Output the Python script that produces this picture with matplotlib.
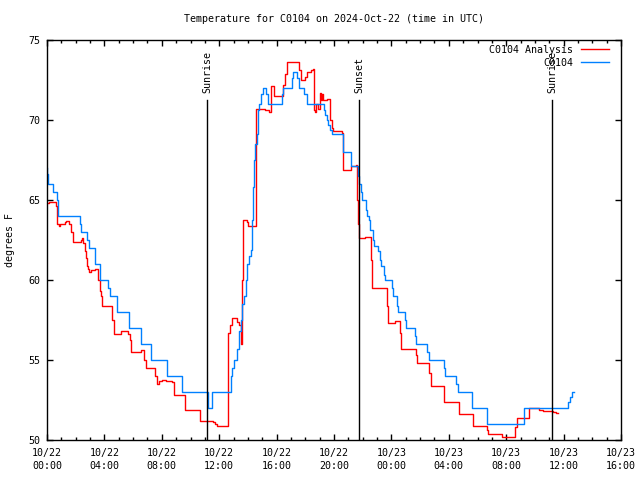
import matplotlib
matplotlib.use("Agg")
import matplotlib.pyplot as plt
import numpy as np

# observed station temps (hours since 10/22 00:00 UTC, deg F)
obs_hours = [0.0, 0.03, 0.09, 0.42, 0.72, 0.77, 2.28, 2.37, 2.77, 2.93, 3.34, 3.69,
             4.25, 4.39, 4.86, 5.74, 6.53, 7.27, 8.38, 9.39, 11.24, 11.48, 12.80,
             12.89, 13.03, 13.26, 13.38, 13.49, 13.61, 13.73, 13.85, 13.96, 14.08,
             14.20, 14.26, 14.38, 14.45, 14.49, 14.61, 14.68, 14.72, 14.79, 14.89,
             15.03, 15.26, 15.37, 16.40, 16.47, 17.05, 17.14, 17.42, 17.56, 17.91,
             18.10, 19.32, 19.37, 19.49, 19.56, 19.72, 19.84, 20.61, 21.18, 21.65,
             21.76, 21.88, 21.97, 22.23, 22.32, 22.44, 22.51, 22.74, 22.81, 23.09,
             23.21, 23.28, 23.50, 23.55, 24.02, 24.13, 24.37, 24.44, 24.95, 25.00,
             25.67, 25.69, 26.50, 26.62, 27.69, 27.74, 28.50, 28.66, 29.64, 30.64,
             33.26, 36.33, 36.48, 36.62, 36.75]
obs_temps = [67.0, 66.6, 66.0, 65.5, 65.0, 64.0, 63.5, 63.0, 62.5, 62.0, 61.0, 60.0,
             59.5, 59.0, 58.0, 57.0, 56.0, 55.0, 54.0, 53.0, 52.0, 53.0, 54.0,
             54.5, 55.0, 55.7, 56.8, 57.5, 58.5, 59.0, 60.0, 61.0, 61.5,
             61.9, 63.75, 65.8, 67.5, 68.5, 69.1, 69.6, 70.6, 71.0, 71.6,
             72.0, 71.6, 71.0, 71.6, 72.0, 72.6, 73.0, 72.6, 72.0, 71.6,
             71.0, 70.6, 70.3, 70.0, 69.7, 69.4, 69.1, 68.0, 67.1, 66.5,
             66.0, 65.5, 65.0, 64.4, 64.0, 63.75, 63.1, 62.5, 62.1, 61.8,
             61.25, 60.9, 60.3, 60.0, 59.5, 59.0, 58.4, 58.0, 57.5, 57.0,
             56.5, 56.0, 55.5, 55.0, 54.5, 54.0, 53.5, 53.0, 52.0, 51.0,
             52.0, 52.4, 52.7, 53.0, 53.0]

# analysis temps
ana_hours = [0.0, 0.14, 0.61, 0.72, 0.81, 0.89, 1.23, 1.30, 1.53, 1.69, 1.83, 2.39,
             2.46, 2.53, 2.63, 2.70, 2.77, 2.86, 2.93, 3.05, 3.32, 3.55, 3.69, 3.78,
             3.85, 4.55, 4.69, 5.18, 5.64, 5.78, 5.87, 6.53, 6.76, 6.88, 7.53, 7.65,
             7.81, 7.99, 8.29, 8.73, 8.87, 9.64, 10.66, 11.55, 11.71, 11.87, 12.58,
             12.75, 12.87, 13.26, 13.41, 13.49, 13.59, 13.64, 13.92, 14.03, 14.56,
             15.19, 15.49, 15.61, 15.84, 16.47, 16.59, 16.70, 17.58, 17.67, 17.98,
             18.10, 18.40, 18.54, 18.59, 18.68, 18.75, 18.89, 19.02, 19.09, 19.16,
             19.22, 19.49, 19.72, 19.84, 19.91, 20.54, 20.65, 21.16, 21.55, 21.60,
             21.67, 21.74, 22.16, 22.58, 22.67, 23.67, 23.74, 24.25, 24.60, 24.67,
             25.71, 25.76, 26.64, 26.74, 27.67, 28.71, 29.69, 30.64, 30.70, 31.71,
             32.58, 32.72, 33.62, 34.29, 34.56, 35.26, 35.47, 35.63]
ana_temps = [64.8, 64.9, 64.6, 63.5, 63.4, 63.5, 63.6, 63.7, 63.5, 63.0, 62.4, 62.5,
             62.6, 62.3, 61.8, 61.35, 60.9, 60.7, 60.5, 60.6, 60.7, 60.0, 59.3, 59.0,
             58.4, 57.5, 56.6, 56.8, 56.6, 56.25, 55.5, 55.6, 55.0, 54.5, 54.0, 53.5,
             53.7, 53.75, 53.7, 53.6, 52.8, 51.9, 51.2, 51.1, 51.0, 50.9, 56.7,
             57.2, 57.6, 57.4, 57.2, 56.0, 60.0, 63.75, 63.6, 63.4, 70.7,
             70.6, 70.5, 72.1, 71.5, 72.2, 72.9, 73.6, 73.1, 72.5, 72.7,
             73.0, 73.1, 73.2, 70.6, 70.5, 71.0, 70.7, 71.7, 71.25, 71.6,
             71.25, 71.3, 70.0, 69.5, 69.3, 69.2, 66.9, 67.1, 67.2, 65.0,
             63.5, 62.6, 62.7, 61.25, 59.5, 58.4, 57.3, 57.45, 56.7, 55.7,
             55.3, 54.8, 54.2, 53.4, 52.4, 51.6, 50.9, 50.6, 50.35, 50.2,
             50.8, 51.4, 52.0, 51.9, 51.8, 51.75, 51.7, 51.7]

events = ["Sunrise", "Sunset", "Sunrise"]
event_hours = [11.15, 21.74, 35.19]

xtick_hours = [0, 4, 8, 12, 16, 20, 24, 28, 32, 36, 40]
xtick_labels = ["10/22\n00:00", "10/22\n04:00", "10/22\n08:00", "10/22\n12:00",
                "10/22\n16:00", "10/22\n20:00", "10/23\n00:00", "10/23\n04:00",
                "10/23\n08:00", "10/23\n12:00", "10/23\n16:00"]

plt.rcParams['font.family'] = ['DejaVu Sans Mono']
plt.rcParams['font.size'] = 7.2

fig = plt.figure(figsize=(6.4, 4.8), dpi=100)
ax = fig.add_axes([47/640, 40/480, 574/640, 400/480])

ax.plot(ana_hours, ana_temps, drawstyle='steps-post', color='#ff0000', lw=1, label='C0104 Analysis')
ax.plot(obs_hours, obs_temps, drawstyle='steps-post', color='#0080ff', lw=1, label='C0104')

for name, h in zip(events, event_hours):
    ax.plot([h, h], [50, 71.25], color='black', lw=1)
    ax.text(h, 71.7, name, rotation=90, ha='center', va='bottom')

ax.set_xlim(0, 40)
ax.set_ylim(50, 75)
ax.set_xticks(xtick_hours)
ax.set_xticklabels(xtick_labels, linespacing=1.35)
ax.set_xticks(np.arange(0, 41, 1), minor=True)
ax.set_yticks([50, 55, 60, 65, 70, 75])
ax.tick_params(which='both', direction='in', top=True, right=True, width=1)
ax.tick_params(which='major', length=4.5)
ax.tick_params(axis='x', which='major', pad=6)
ax.tick_params(axis='y', which='major', pad=5)
ax.tick_params(which='minor', length=2.5)
for s in ax.spines.values():
    s.set_linewidth(1)

ax.legend(loc='upper right', bbox_to_anchor=(1.0, 1.0175), frameon=False, markerfirst=False,
          handlelength=2.8, handletextpad=0.8, labelspacing=0.3, borderpad=0.4,
          borderaxespad=0.8)

fig.text(334/640, 1 - 19/480, "Temperature for C0104 on 2024-Oct-22 (time in UTC)",
         ha='center', va='center')
fig.text(10/640, 0.5, "degrees F", rotation=90, ha='center', va='center')

fig.savefig("out.png", dpi=100)
